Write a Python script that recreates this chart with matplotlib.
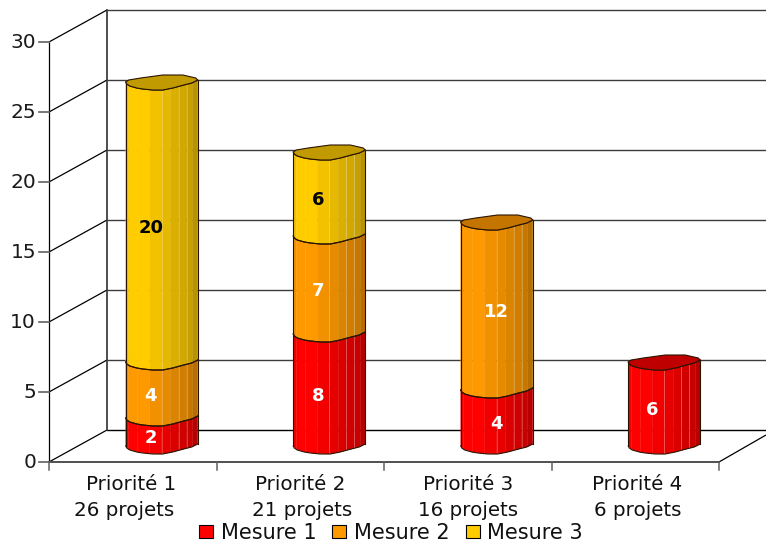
import numpy as np
import matplotlib
matplotlib.use('Agg')
import matplotlib.pyplot as plt
from matplotlib.patches import Polygon, Patch
from matplotlib.colors import to_rgb

plt.rcParams['font.family'] = ['DejaVu Sans']

priorites = ['Priorité 1', 'Priorité 2', 'Priorité 3', 'Priorité 4']
projets = ['26 projets', '21 projets', '16 projets', '6 projets']
mesure1 = [2, 8, 4, 6]
mesure2 = [4, 7, 12, 0]
mesure3 = [20, 6, 0, 0]
series_names = ['Mesure 1', 'Mesure 2', 'Mesure 3']
yticks = [0, 5, 10, 15, 20, 25, 30]

colors = ['#ff0000', '#ff9900', '#ffcc00']
top_colors = ['#bf0000', '#c47500', '#c09a00']
label_colors = ['white', 'white', 'black']

# pixel scale of the fake 3D box
PX_X = 167.5
PX_Y = 14.0
X0, Y0 = 49, 462
W, H = 766, 544
DEPTH_X = 58 / PX_X
DEPTH_Y = 32 / PX_Y

fig = plt.figure(figsize=(W / 100, H / 100), dpi=100)
ax = fig.add_axes([0, 0, 1, 1])
ax.set_xlim(-X0 / PX_X, (W - X0) / PX_X)
ax.set_ylim((Y0 - H) / PX_Y, Y0 / PX_Y)
ax.axis('off')

n = len(priorites)
line_kw = dict(color='black', lw=0.9, solid_capstyle='butt', zorder=1)
grid_kw = dict(color='#3c3c3c', lw=1.0, solid_capstyle='butt', zorder=1)

# walls, floor and grid
for v in yticks[1:]:
    ax.plot([DEPTH_X, W / PX_X], [v + DEPTH_Y, v + DEPTH_Y], **grid_kw)
    ax.plot([0, DEPTH_X], [v, v + DEPTH_Y], **line_kw)
ax.plot([DEPTH_X, W / PX_X], [DEPTH_Y, DEPTH_Y], color='black', lw=1.0, zorder=1)
ax.plot([0, DEPTH_X], [0, DEPTH_Y], **line_kw)
ax.plot([DEPTH_X, DEPTH_X], [DEPTH_Y, 30 + DEPTH_Y], color='#303030', lw=1.2, zorder=1)
ax.plot([0, 0], [0, 30], **line_kw)
ax.plot([0, n], [0, 0], color='#505050', lw=1.4, zorder=1)
ax.plot([n, n + 47 / PX_X], [0, 27 / PX_Y], **line_kw)

# ticks and their labels
for v in yticks:
    ax.plot([-10 / PX_X, 0], [v, v], color='#606060', lw=1.2, zorder=1)
    ax.text(-13 / PX_X, v - 0.05, str(v), ha='right', va='center', fontsize=14.5, color='#1a1a1a')
for i in range(n + 1):
    ax.plot([i, i], [0, -8 / PX_Y], color='#606060', lw=1.1, zorder=1)

prio_dx = [-2, 0, 0, 2]
proj_dx = [-9, 2, 0, 2]
for i in range(n):
    ax.text(i + 0.5 + prio_dx[i] / PX_X, -22 / PX_Y, priorites[i], ha='center', va='center',
            fontsize=14.3, color='#111111')
    ax.text(i + 0.5 + proj_dx[i] / PX_X, -48 / PX_Y, projets[i], ha='center', va='center',
            fontsize=14.3, color='#111111')

# outline of the faceted tube section, offsets from its centre in pixels
low_x = np.array([-36, -35, -32, -25, -19, -9, 1, 11, 22, 30, 36])
low_y = np.array([0, 2, 4, 6, 7, 8, 8, 6, 3, 1, -2])
up_x = np.array([-36, -33, -21, 1, 21, 34, 36])
up_y = np.array([0, -2, -4, -7, -7, -4, -2])

edges = np.array([-36, -33, -24, -12, 0, 9, 17, 25, 31, 36])
shade = [0.94, 1.0, 1.0, 0.95, 0.9, 0.86, 0.82, 0.78, 0.72]
glint = [False, False, False, True, False, True, True, False, False]
outline = '#2a1400'


def draw_segment(cx, base, top, color_i, cap):
    base_c = np.array(to_rgb(colors[color_i]))
    for k in range(len(edges) - 1):
        xs = edges[k:k + 2]
        yoff = np.interp(xs, low_x, low_y) / PX_Y
        px = cx + xs / PX_X
        poly = [(px[0], base - yoff[0]), (px[1], base - yoff[1]),
                (px[1], top - yoff[1]), (px[0], top - yoff[0])]
        ax.add_patch(Polygon(poly, closed=True, fc=base_c * shade[k], ec=base_c * shade[k], lw=0.2, zorder=3))
        if glint[k]:
            ax.plot([px[1], px[1]], [base - yoff[1], top - yoff[1]], color='white', alpha=0.25,
                    lw=0.7, zorder=3.5)
    # outline: sides and lower curve
    lx = cx + low_x / PX_X
    ax.plot(lx, base - low_y / PX_Y, color=outline, lw=0.8, zorder=4)
    ax.plot([lx[0], lx[0]], [base - low_y[0] / PX_Y, top - low_y[0] / PX_Y], color=outline, lw=0.8, zorder=4)
    ax.plot([lx[-1], lx[-1]], [base - low_y[-1] / PX_Y, top - low_y[-1] / PX_Y], color=outline, lw=0.8, zorder=4)
    ax.plot(lx, top - low_y / PX_Y, color=outline, lw=0.8, zorder=5)
    if cap:
        pts = [(cx + a / PX_X, top - b / PX_Y) for a, b in zip(up_x, up_y)]
        pts += [(cx + a / PX_X, top - b / PX_Y) for a, b in zip(low_x[::-1], low_y[::-1])]
        ax.add_patch(Polygon(pts, closed=True, fc=top_colors[color_i], ec=outline, lw=0.8, zorder=5))


label_dx = [-11, -11, 0, -12]
stack = [mesure1, mesure2, mesure3]
for i in range(n):
    cx = i + 0.5 + DEPTH_X / 2
    base = DEPTH_Y / 2
    level = 0
    last = max(j for j in range(3) if stack[j][i] > 0)
    for j in range(3):
        v = stack[j][i]
        if v == 0:
            continue
        draw_segment(cx, base + level, base + level + v, j, j == last)
        ax.text(cx + label_dx[i] / PX_X, base + level + v / 2 - 6 / PX_Y, str(v), ha='center', va='center',
                fontsize=13, fontweight='bold', color=label_colors[j], zorder=6)
        level += v

handles = [Patch(fc=c, ec='black', lw=0.8) for c in colors]
ax.legend(handles, series_names, loc='center', bbox_to_anchor=(391 / W, 1 - 533 / H), ncol=3, frameon=False,
          fontsize=15, handlelength=0.67, handleheight=0.62, handletextpad=0.36, columnspacing=0.78,
          labelcolor='#111111', borderpad=0, borderaxespad=0)

fig.savefig('out.png', dpi=100)
